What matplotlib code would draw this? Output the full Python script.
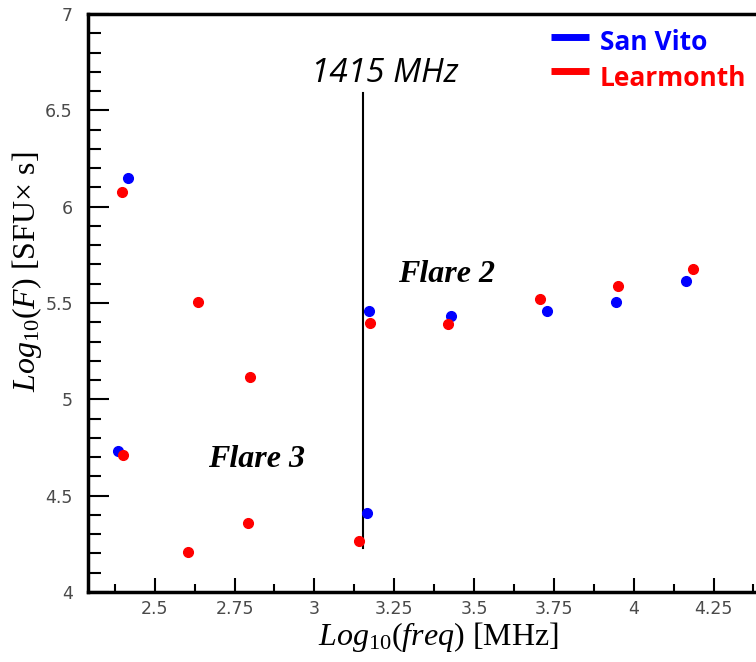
#!/usr/bin/env python3

import matplotlib.pyplot as plt
from matplotlib.ticker import MultipleLocator

plt.rcParams['mathtext.fontset'] = 'custom'
plt.rcParams['mathtext.rm'] = 'Liberation Serif'
plt.rcParams['mathtext.it'] = 'Liberation Serif:italic'

# San Vito (blue) and Learmonth (red) burst fluences, log10 values
san_vito_freq = [2.417, 2.385, 3.171, 3.166, 3.428, 3.729, 3.945, 4.163]
san_vito_flux = [6.150, 4.732, 5.457, 4.412, 5.432, 5.457, 5.507, 5.614]

learmonth_freq = [2.396, 2.636, 2.798, 2.400, 2.605, 2.793, 3.141,
                  3.174, 3.419, 3.707, 3.950, 4.186]
learmonth_flux = [6.074, 5.505, 5.117, 4.711, 4.206, 4.356, 4.263,
                  5.394, 5.389, 5.520, 5.590, 5.676]

line_freq = 3.1508  # log10(1415)
line_span = (4.227, 6.588)

fig = plt.figure(figsize=(7.56, 6.62), dpi=100)
ax = fig.add_axes([88 / 756, 70 / 662, 668 / 756, 578 / 662])

ax.plot(san_vito_freq, san_vito_flux, 'o', color='#0000ff', markersize=7, zorder=3)
ax.plot(learmonth_freq, learmonth_flux, 'o', color='#ff0000', markersize=7, zorder=3)
ax.plot([line_freq, line_freq], line_span, color='black', lw=1.5, zorder=2)

ax.set_xlim(2.291, 4.383)
ax.set_ylim(4, 7)

ax.xaxis.set_major_locator(MultipleLocator(0.25))
ax.xaxis.set_minor_locator(MultipleLocator(0.125))
ax.yaxis.set_major_locator(MultipleLocator(0.5))
ax.yaxis.set_minor_locator(MultipleLocator(0.1))
ax.xaxis.set_major_formatter(lambda v, p: '%g' % round(v, 3))
ax.yaxis.set_major_formatter(lambda v, p: '%g' % round(v, 3))

ax.tick_params(axis='x', which='major', direction='in', length=10, width=1.5,
               pad=6, labelsize=12.5, labelcolor='#4a4a4a', top=False)
ax.tick_params(axis='x', which='minor', direction='in', length=6, width=1.5, top=False)
ax.tick_params(axis='y', which='major', direction='in', length=15, width=1.5,
               pad=11, labelsize=12.5, labelcolor='#4a4a4a', right=False)
ax.tick_params(axis='y', which='minor', direction='in', length=9, width=1.5, right=False)

for side in ['left', 'bottom', 'top']:
    ax.spines[side].set_linewidth(2.5)
ax.spines['right'].set_visible(False)

# annotations
ax.text(3.221, 6.647, '1415 MHz', fontfamily='Open Sans', style='italic',
        fontsize=24, ha='center', va='baseline')
ax.text(3.262, 5.609, 'Flare 2', fontfamily='Liberation Serif', style='italic',
        fontweight='bold', fontsize=23, va='baseline')
ax.text(2.668, 4.650, 'Flare 3', fontfamily='Liberation Serif', style='italic',
        fontweight='bold', fontsize=23, va='baseline')

# legend
for y_line, y_text, label, color in [(0.9607, 0.9377, 'San Vito', '#0000ff'),
                                     (0.9014, 0.8754, 'Learmonth', '#ff0000')]:
    ax.plot([0.693, 0.750], [y_line, y_line], color=color, lw=5,
            transform=ax.transAxes, solid_capstyle='butt', clip_on=False)
    ax.text(0.7665, y_text, label, color=color, fontfamily='Open Sans',
            fontweight='bold', fontsize=19, va='baseline', transform=ax.transAxes)

# axis labels
fig.text(438 / 756, 1 - 645 / 662, r'$\mathit{Log}_{\mathit{10}}\mathit{(freq)}$ [MHz]',
         fontfamily='Liberation Serif', fontsize=23, ha='center', va='baseline')
fig.text(35 / 756, 1 - 272 / 662, r'$\mathit{Log}_{\mathit{10}}\mathit{(F)}$ [SFU× s]',
         fontfamily='Liberation Serif', fontsize=23, ha='center', va='baseline',
         rotation=90, rotation_mode='anchor')

fig.savefig('out.png', dpi=100)
